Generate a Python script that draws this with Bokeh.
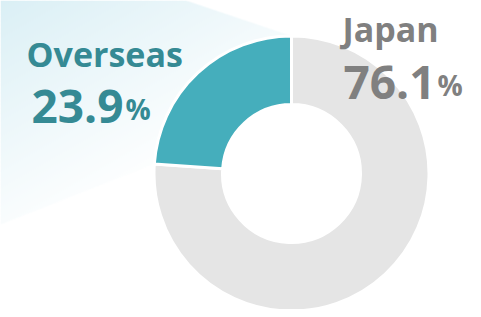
import numpy as np
from bokeh.plotting import figure
from bokeh.models import Range1d, ColumnDataSource
from bokeh.core.properties import value
from bokeh.embed import file_html
from bokeh.resources import INLINE

# ---- data ----
categories = ["Japan", "Overseas"]
shares = [76.1, 23.9]
slice_colors = ["#e5e5e5", "#45aebc"]
label_colors = ["#808080", "#358a94"]

# ---- geometry (1 data unit = 1 screen pixel, donut centre at origin) ----
W, H = 473, 309
x0, x1 = -291, 182
y0, y1 = -136, 173
R_OUT, R_IN = 137.5, 69.0

p = figure(width=W, height=H, x_range=Range1d(x0, x1), y_range=Range1d(y0, y1),
           x_axis_type=None, y_axis_type=None, min_border=0,
           toolbar_location=None, output_backend="svg")
p.grid.visible = False
p.outline_line_color = None
p.background_fill_color = "white"
p.border_fill_color = "white"

# slice angles: Overseas starts at 12 o'clock going anticlockwise, Japan fills the rest
total = sum(shares)
ov = shares[1] / total * 2 * np.pi
start_top = np.pi / 2
starts = [start_top + ov, start_top]
ends = [start_top + 2 * np.pi, start_top + ov]

# ---- highlight "spotlight" band behind the Overseas slice (gradient) ----
A = np.array([R_OUT * np.cos(starts[1]), R_OUT * np.sin(starts[1])])
B = np.array([R_OUT * np.cos(ends[1]), R_OUT * np.sin(ends[1])])
a1 = np.deg2rad(161.4)   # upper edge direction
a2 = np.deg2rad(201.5)   # lower edge direction
u1 = np.array([np.cos(a1), np.sin(a1)])
u2 = np.array([np.cos(a2), np.sin(a2)])

xs = x0 + np.arange(W) + 0.5
ys = y0 + np.arange(H) + 0.5
X, Y = np.meshgrid(xs, ys)

def side(P, d, X, Y):
    # signed distance, positive to the left of direction d through P
    return d[0] * (Y - P[1]) - d[1] * (X - P[0])

s1 = side(A, u1, X, Y)           # below upper edge  (positive inside)
s2 = -side(B, u2, X, Y)          # above lower edge
dc = (A - B) / np.linalg.norm(A - B)
s3 = side(B, dc, X, Y)           # beyond the chord (away from centre)
if float(side(B, dc, 0.0, 0.0)) > 0:
    s3 = -s3
cov = np.clip(s1 + 0.5, 0, 1) * np.clip(s2 + 0.5, 0, 1) * np.clip(s3 + 3, 0, 1)

XR = X - x0
YR = y1 - Y
t = np.clip((0.5 * XR + 0.87 * YR) / 240.0, 0, 1)
alpha = (1 - t) ** 1.1 * cov

img = np.zeros((H, W), dtype=np.uint32)
view = img.view(dtype=np.uint8).reshape((H, W, 4))
view[:, :, 0] = 218
view[:, :, 1] = 239
view[:, :, 2] = 245
view[:, :, 3] = (alpha * 255).astype(np.uint8)
p.image_rgba(image=[img], x=x0, y=y0, dw=W, dh=H)

# ---- donut ----
src = ColumnDataSource(dict(cat=categories, share=shares, start=starts, end=ends,
                            color=slice_colors))
p.annular_wedge(x=0, y=0, inner_radius=R_IN, outer_radius=R_OUT,
                start_angle="start", end_angle="end", direction="anticlock",
                fill_color="color", line_color="white", line_width=3, source=src)

# ---- labels ----
name_pos = [(51, 145), (-265, 120)]
num_pos = [(52, 91), (-260, 67)]
pct_pos = [(146, 89), (-166, 65)]
for i, cat in enumerate(categories):
    p.text(x=[name_pos[i][0]], y=[name_pos[i][1]], text=[cat],
           text_font=value("Open Sans"), text_font_style="bold",
           text_font_size="34px", text_color=label_colors[i],
           text_align="left", text_baseline="alphabetic")
    p.text(x=[num_pos[i][0]], y=[num_pos[i][1]], text=[f"{shares[i]:.1f}"],
           text_font=value("Open Sans"), text_font_style="bold",
           text_font_size="46px", text_color=label_colors[i],
           text_align="left", text_baseline="alphabetic")
    p.text(x=[pct_pos[i][0]], y=[pct_pos[i][1]], text=["%"],
           text_font=value("Open Sans"), text_font_style="bold",
           text_font_size="28px", text_color=label_colors[i],
           text_align="left", text_baseline="alphabetic")

open("out.html", "w").write(file_html(p, INLINE))
